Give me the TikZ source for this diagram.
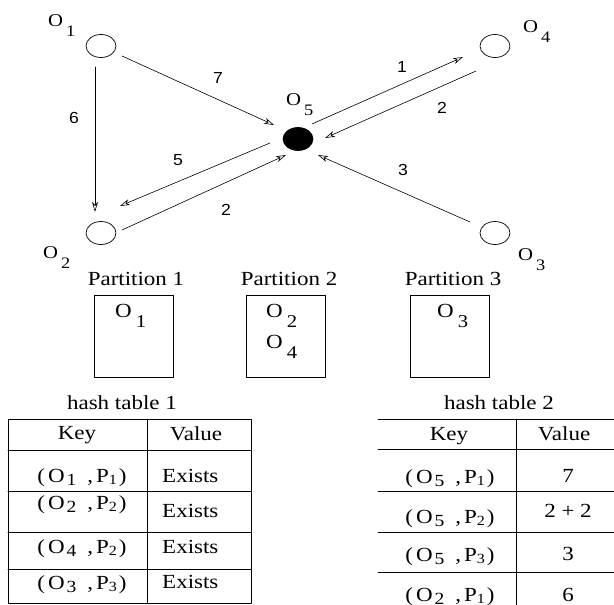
\documentclass[tikz,border=0pt]{standalone}
\usepackage{fontspec}
\setmainfont{Liberation Serif}[FakeStretch=1.15]
\setsansfont{Liberation Sans}[FakeStretch=1.1]
\usetikzlibrary{shapes.geometric,arrows.meta,calc}

\newcommand{\Olab}[1]{O\hspace{3pt}\raisebox{-10pt}{\fontsize{16}{16}\selectfont #1}}
\newcommand{\Obox}[1]{O\hspace{4pt}\raisebox{-10pt}{\fontsize{18}{18}\selectfont #1}}
\newcommand{\keyOP}[2]{(\hspace{3pt}O\hspace{2pt}\raisebox{-3pt}{\fontsize{17}{17}\selectfont #1}\hspace{11pt},\hspace{3pt}P\raisebox{-2pt}{\fontsize{14}{14}\selectfont #2}\hspace{2pt})}

\begin{document}
\begin{tikzpicture}[x=1pt, y=-1pt, line join=round, line cap=round,
	obj/.style={ellipse, draw, line width=0.7pt, minimum width=30pt, minimum height=23pt, inner sep=0pt},
	arr/.style={-{Stealth[open, length=10pt, width=6pt, inset=3pt]}, line width=0.6pt},
	lab/.style={font=\fontsize{18}{18}\selectfont, inner sep=0pt},
	wt/.style={font=\sffamily\fontsize{16}{16}\selectfont, inner sep=0pt},
	txt/.style={font=\fontsize{20}{20}\selectfont, inner sep=0pt},
	partbox/.style={draw, line width=0.8pt, minimum width=79pt, minimum height=82pt},
	tab/.style={line width=0.8pt}]
		\useasboundingbox (0,0) rectangle (614,605);
		% objects
		\node[obj] (o1) at (101,46) {};
		\node[obj] (o2) at (101,233) {};
		\node[obj] (o3) at (495,233) {};
		\node[obj] (o4) at (495,46) {};
		\node[obj, fill=black] (o5) at (298,139) {};
		\node[lab, anchor=base west] (lo1) at (48,27) {\Olab{1}};
		\node[lab, anchor=base west] (lo2) at (43,258) {\Olab{2}};
		\node[lab, anchor=base west] (lo3) at (518,260) {\Olab{3}};
		\node[lab, anchor=base west] (lo4) at (523,32) {\Olab{4}};
		\node[lab, anchor=base west] (lo5) at (286,105) {\Olab{5}};
		% weighted edges
		\draw[arr] ($(o1)+(21,10)$) -- ($(o5)+(-24,-14)$) node[wt] (w7) at (218,78) {7};
		\draw[arr] ($(o1)+(-6,21)$) -- ($(o2)+(-6,-21)$) node[wt] (w6) at (74,118) {6};
		\draw[arr] ($(o5)+(-28,4)$) -- ($(o2)+(19,-27)$) node[wt] (w5) at (178,160) {5};
		\draw[arr] ($(o2)+(21,-3)$) -- ($(o5)+(-12,16)$) node[wt] (w2a) at (226,210) {2};
		\draw[arr] ($(o5)+(14,-15)$) -- ($(o4)+(-32,11)$) node[wt] (w1) at (402,67) {1};
		\draw[arr] ($(o4)+(-19,25)$) -- ($(o5)+(27,-1)$) node[wt] (w2b) at (442,108) {2};
		\draw[arr] ($(o3)+(-25,-11)$) -- ($(o5)+(20,16)$) node[wt] (w3) at (403,170) {3};
		% partitions
		\node[partbox] (p1) at (134,336) {};
		\node[partbox] (p2) at (285.5,336) {};
		\node[partbox] (p3) at (449.5,336) {};
		\node[txt, anchor=base] (pt1) at (136,285) {Partition 1};
		\node[txt, anchor=base] (pt2) at (289,285) {Partition 2};
		\node[txt, anchor=base] (pt3) at (453,285) {Partition 3};
		\node[txt, anchor=base west] (po1) at (115,317) {\Obox{1}};
		\node[txt, anchor=base west] (po2) at (266,317) {\Obox{2}};
		\node[txt, anchor=base west] (po4) at (266,348) {\Obox{4}};
		\node[txt, anchor=base west] (po3) at (437,317) {\Obox{3}};
		% hash table 1
		\node[txt, anchor=base] (h1) at (122,409) {hash table 1};
		\draw[tab] (8,419) rectangle (251,603);
		\draw[tab] (147,419) -- (147,603);
		\foreach \y in {450,491,532,569} \draw[tab] (8,\y) -- (251,\y);
		\node[txt, anchor=base] (hk1) at (77,439) {Key};
		\node[txt, anchor=base] (hv1) at (196,440) {Value};
		\foreach \a/\b/\yk/\yv in {1/1/482/482, 2/2/509/517, 4/2/553/553, 3/3/589/588} {
			\node[txt, anchor=base] (ka\a\b) at (82,\yk) {\keyOP{\a}{\b}};
			\node[txt, anchor=base west] (va\a\b) at (162,\yv) {Exists};
		}
		% hash table 2
		\node[txt, anchor=base] (h2) at (499,409) {hash table 2};
		\foreach \y in {419,449,491,532,572} \draw[tab] (378,\y) -- (614,\y);
		\draw[tab] (516,419) -- (516,605);
		\node[txt, anchor=base] (hk2) at (449,440) {Key};
		\node[txt, anchor=base] (hv2) at (564,440) {Value};
		\foreach \a/\b/\v/\yk/\yv in {5/1/7/483/482, 5/2/{2 + 2}/523/517, 5/3/3/561/560, 2/1/6/601/601} {
			\node[txt, anchor=base] (kb\a\b) at (450,\yk) {\keyOP{\a}{\b}};
			\node[txt, anchor=base] (vb\a\b) at (568,\yv) {\v};
		}
	\end{tikzpicture}
\end{document}
